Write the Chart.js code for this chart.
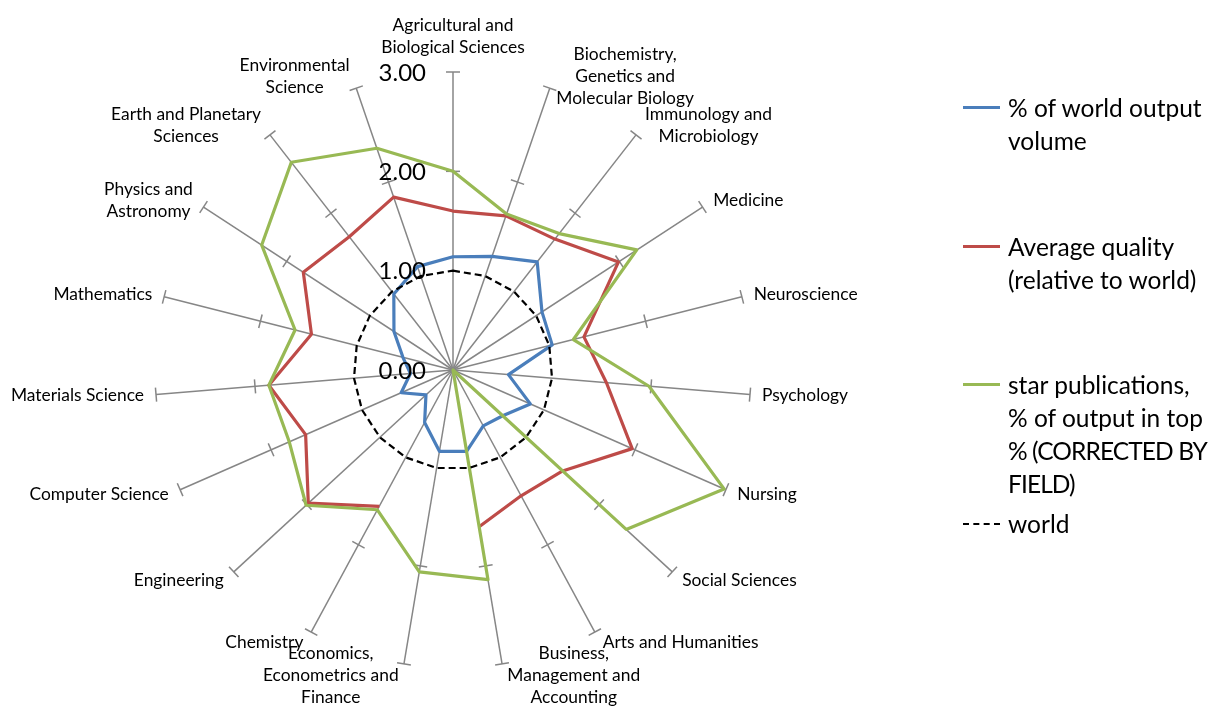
<!DOCTYPE html>
<html>
<head>
<meta charset="utf-8">
<title>Radar</title>
<script src="https://cdn.jsdelivr.net/npm/chart.js@4.4.1/dist/chart.umd.min.js"></script>
<style>
  html, body { margin: 0; padding: 0; background: #fff; }
  #wrap { position: relative; width: 1209px; height: 707px; overflow: hidden; }
  #radar { position: absolute; left: 0; top: 0; }

  .legend { position: absolute; left: 963px; top: 0; font-family: Lato, Calibri, sans-serif; font-size: 24.5px; line-height: 33px; color: #000; }
  .legend .item { position: absolute; left: 0; width: 246px; }
  .legend .swatch { position: absolute; left: 0; top: 15px; width: 37px; height: 0; border-top: 3px solid; }
  .legend .swatch.dash { border-top: 2px dashed #000; top: 16px; }
  .legend .txt { position: absolute; left: 45px; top: 0; white-space: nowrap; }
  .legend .txt span { display: block; }
  .legend .txt span.caps { letter-spacing: -0.9px; }
</style>
</head>
<body>
<div id="wrap">
  <canvas id="radar" width="1209" height="707"></canvas>
  <div class="legend" id="legend"></div>
</div>
<script>
// subject fields, one per spoke (clockwise from the top)
const categories = [
  ["Agricultural and", "Biological Sciences"],
  ["Biochemistry,", "Genetics and", "Molecular Biology"],
  ["Immunology and", "Microbiology"],
  ["Medicine"],
  ["Neuroscience"],
  ["Psychology"],
  ["Nursing"],
  ["Social Sciences"],
  ["Arts and Humanities"],
  ["Business,", "Management and", "Accounting"],
  ["Economics,", "Econometrics and", "Finance"],
  ["Chemistry"],
  ["Engineering"],
  ["Computer Science"],
  ["Materials Science"],
  ["Mathematics"],
  ["Physics and", "Astronomy"],
  ["Earth and Planetary", "Sciences"],
  ["Environmental", "Science"]
];

const outputVolume = [1.14, 1.21, 1.38, 1.07, 1.03, 0.56, 0.85, 0.68, 0.64, 0.83, 0.83, 0.60, 0.37, 0.57, 0.43, 0.52, 0.71, 0.97, 1.10];
const avgQuality   = [1.60, 1.64, 1.67, 1.99, 1.36, 1.55, 1.97, 1.50, 1.44, 1.60, null, 1.56, 1.98, 1.62, 1.86, 1.47, 1.80, 1.70, 1.84];
const starPubs     = [2.00, 1.66, 1.74, 2.21, 1.25, 1.98, 2.98, 2.37, 0.00, 2.14, 2.06, 1.60, 2.01, 1.80, 1.86, 1.64, 2.30, 2.65, 2.36];
const world        = [1.00, 1.00, 1.00, 1.00, 1.00, 1.00, 1.00, 1.00, 1.00, 1.00, 1.00, 1.00, 1.00, 1.00, 1.00, 1.00, 1.00, 1.00, 1.00];

const axisTicks = [0, 1, 2, 3];
const spokeMarks = [2, 3];

const seriesNames = [
  ["% of world output", "volume"],
  ["Average quality", "(relative to world)"],
  ["star publications,", "% of output in top", "% (CORRECTED BY", "FIELD)"],
  ["world"]
];

const COLORS = {
  blue: "#4A7EBB",
  red: "#BE4B48",
  green: "#98B954",
  world: "#000000",
  spoke: "#868686"
};

// tick bars across each spoke + value labels on the vertical axis
const spokeDecor = {
  id: "spokeDecor",
  beforeDatasetsDraw(chart) {
    const r = chart.scales.r;
    const ctx = chart.ctx;
    ctx.save();
    ctx.strokeStyle = COLORS.spoke;
    ctx.lineWidth = 1.5;
    categories.forEach((_, i) => {
      const a = r.getIndexAngle(i);
      const px = Math.cos(a), py = Math.sin(a);
      spokeMarks.forEach((v) => {
        const p = r.getPointPositionForValue(i, v);
        ctx.beginPath();
        ctx.moveTo(p.x - px * 7, p.y - py * 7);
        ctx.lineTo(p.x + px * 7, p.y + py * 7);
        ctx.stroke();
      });
    });
    ctx.restore();
  },
  afterDatasetsDraw(chart) {
    const r = chart.scales.r;
    const ctx = chart.ctx;
    ctx.save();
    ctx.fillStyle = "#000";
    ctx.font = "24px Lato, Calibri, sans-serif";
    ctx.textAlign = "right";
    ctx.textBaseline = "middle";
    axisTicks.forEach((v) => {
      const y = r.yCenter - r.getDistanceFromCenterForValue(v);
      ctx.fillText(v.toFixed(2), r.xCenter - 27, y + 1);
    });

    // category labels next to the spoke ends
    ctx.font = "17.4px Lato, Calibri, sans-serif";
    ctx.textAlign = "center";
    const lh = 22;
    categories.forEach((lines, i) => {
      const a = r.getIndexAngle(i);
      const s = Math.sin(a), c = Math.cos(a);
      const p = r.getPointPositionForValue(i, r.max);
      const w = Math.max(...lines.map((t) => ctx.measureText(t).width));
      const h = lines.length * lh;
      let cx, top;
      if (Math.abs(s) < 0.05) {
        cx = p.x;
        top = p.y - 14 - h;
      } else {
        const pad = 4 + 8 * Math.abs(s);
        cx = s > 0 ? p.x + pad + w / 2 : p.x - pad - w / 2;
        top = p.y - 12 * c - h / 2;
      }
      lines.forEach((t, k) => ctx.fillText(t, cx, top + lh / 2 + k * lh));
    });
    ctx.restore();
  }
};

const lineStyle = (color, order) => ({
  borderColor: color,
  backgroundColor: color,
  borderWidth: 3.2,
  borderJoinStyle: "round",
  pointRadius: 0,
  pointHoverRadius: 0,
  fill: false,
  order
});

new Chart(document.getElementById("radar"), {
  type: "radar",
  data: {
    labels: categories,
    datasets: [
      { label: seriesNames[0].join(" "), data: outputVolume, ...lineStyle(COLORS.blue, 4) },
      { label: seriesNames[1].join(" "), data: avgQuality, ...lineStyle(COLORS.red, 3) },
      { label: seriesNames[2].join(" "), data: starPubs, ...lineStyle(COLORS.green, 2) },
      {
        label: seriesNames[3].join(" "),
        data: world,
        ...lineStyle(COLORS.world, 1),
        borderWidth: 2.2,
        borderDash: [7, 4]
      }
    ]
  },
  options: {
    responsive: false,
    animation: false,
    layout: { padding: { left: 155, top: 72, right: 458, bottom: 39 } },
    elements: { line: { tension: 0 } },
    plugins: { legend: { display: false }, tooltip: { enabled: false } },
    scales: {
      r: {
        min: 0,
        max: 3,
        ticks: { display: false, stepSize: 1 },
        grid: { display: false },
        angleLines: { display: true, color: COLORS.spoke, lineWidth: 1.5 },
        pointLabels: { display: false }
      }
    }
  },
  plugins: [spokeDecor]
});

// legend beside the chart
const legendTops = [91, 230, 368, 507];
const swatchColors = [COLORS.blue, COLORS.red, COLORS.green, null];
const legend = document.getElementById("legend");
seriesNames.forEach((lines, i) => {
  const item = document.createElement("div");
  item.className = "item";
  item.style.top = legendTops[i] + "px";
  const sw = document.createElement("div");
  sw.className = swatchColors[i] ? "swatch" : "swatch dash";
  if (swatchColors[i]) sw.style.borderTopColor = swatchColors[i];
  const txt = document.createElement("div");
  txt.className = "txt";
  lines.forEach((t) => {
    const span = document.createElement("span");
    if (/[A-Z]{4,}/.test(t)) span.className = "caps";
    span.textContent = t;
    txt.appendChild(span);
  });
  item.appendChild(sw);
  item.appendChild(txt);
  legend.appendChild(item);
});
</script>
</body>
</html>
